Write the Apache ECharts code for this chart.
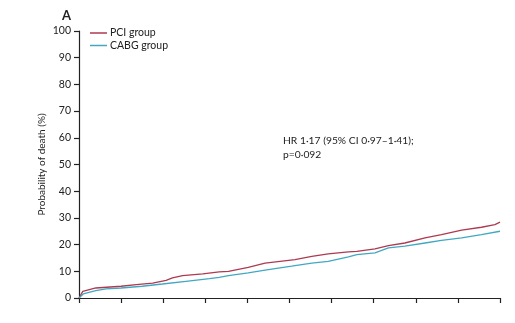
<!DOCTYPE html>
<html><head><meta charset="utf-8">
<script src="https://cdn.jsdelivr.net/npm/echarts@6/dist/echarts.min.js"></script>
<style>html,body{margin:0;padding:0;background:#fff}#c{width:515px;height:323px}</style>
</head><body><div id="c"></div>
<script>
const panelLabel = 'A';
const seriesNames = ['PCI group', 'CABG group'];
const yTicks = [0, 10, 20, 30, 40, 50, 60, 70, 80, 90, 100];
const annotation = ['HR 1·17 (95% CI 0·97–1·41);', 'p=0·092'];
const pciTime = [0, 0.02, 0.09, 0.4, 1, 1.36, 1.75, 2.07, 2.22, 2.46, 2.94, 3.33, 3.55, 4.02, 4.42, 5.13, 5.53, 5.92, 6.4, 6.6, 7.03, 7.35, 7.74, 8.22, 8.61, 9.09, 9.56, 9.88, 10];
const pciVal = [0, 0.6, 2.5, 3.75, 4.4, 5.0, 5.6, 6.6, 7.5, 8.4, 9.0, 9.75, 10.0, 11.5, 13.1, 14.4, 15.6, 16.5, 17.25, 17.5, 18.4, 19.6, 20.6, 22.5, 23.75, 25.4, 26.5, 27.5, 28.4];
const cabgTime = [0, 0.02, 0.1, 0.4, 0.64, 1, 1.5, 1.98, 2.54, 3.1, 3.33, 3.55, 4.02, 4.42, 5.05, 5.53, 5.92, 6.4, 6.6, 7.03, 7.35, 7.74, 8.22, 8.61, 9.09, 9.56, 10];
const cabgVal = [0, 0.25, 1.5, 2.75, 3.4, 3.75, 4.4, 5.25, 6.25, 7.25, 7.75, 8.4, 9.4, 10.4, 11.9, 13.1, 13.75, 15.4, 16.25, 16.9, 18.75, 19.4, 20.6, 21.6, 22.5, 23.75, 25];

const FONT = 'Lato';
const chart = echarts.init(document.getElementById('c'), null, {renderer: 'canvas'});
const zip = (a, b) => a.map((v, i) => [v, b[i]]);
chart.setOption({
  animation: false,
  grid: {left: 79, right: 15, top: 31, bottom: 25, containLabel: false},
  legend: {
    orient: 'vertical', left: 90, top: 27, padding: 0, itemWidth: 17, itemHeight: 1.5, itemGap: 0.5,
    icon: 'rect', textStyle: {fontFamily: FONT, fontSize: 10.5, lineHeight: 12, color: '#222', padding: [0,0,0,-2]},
    data: seriesNames
  },
  xAxis: {
    type: 'value', min: 0, max: 10, interval: 1,
    axisLine: {show: true, lineStyle: {color: '#222', width: 1.2}},
    axisTick: {show: true, length: 5, lineStyle: {color: '#222', width: 1.2}},
    axisLabel: {show: false}, splitLine: {show: false}
  },
  yAxis: {
    type: 'value', min: 0, max: 100, interval: 10,
    name: 'Probability of death (%)', nameLocation: 'middle', nameGap: 32, nameMoveOverlap: false,
    nameTextStyle: {fontFamily: FONT, fontSize: 10, color: '#222'},
    axisLine: {show: true, lineStyle: {color: '#222', width: 1.2}},
    axisTick: {show: true, length: 5, lineStyle: {color: '#222', width: 1.2}},
    axisLabel: {fontFamily: FONT, fontSize: 10.5, color: '#222', margin: 8,
      formatter: v => yTicks.includes(v) ? String(v) : ''},
    splitLine: {show: false}
  },
  series: [
    {name: seriesNames[0], type: 'line', data: zip(pciTime, pciVal), showSymbol: false,
     lineStyle: {color: '#ad3a50', width: 1.3}, itemStyle: {color: '#ad3a50'}},
    {name: seriesNames[1], type: 'line', data: zip(cabgTime, cabgVal), showSymbol: false,
     lineStyle: {color: '#42a8c2', width: 1.3}, itemStyle: {color: '#42a8c2'}}
  ],
  graphic: [
    {type: 'text', left: 62, top: 9, style: {text: panelLabel, fontFamily: FONT, fontWeight: 'bold', fontSize: 13, fill: '#222'}},
    {type: 'text', left: 283, top: 134, style: {text: annotation.join('\n'), fontFamily: FONT, fontSize: 10.3, lineHeight: 13.5, fill: '#222'}}
  ]
});
</script></body></html>
